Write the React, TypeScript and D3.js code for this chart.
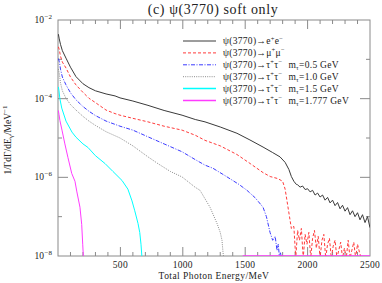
import React, { useEffect, useRef } from 'react';
import * as d3 from 'd3';

// [E_gamma (MeV), log10(1/Γ dΓ/dE)] ; null = empty bin
const eePts: [number, number | null][] = [
  [3, -2.36], [10, -2.48], [20, -2.62], [35, -2.78], [64, -2.97], [100, -3.2], [144, -3.44],
  [200, -3.62], [248, -3.72], [300, -3.8], [385, -3.88], [457, -3.93], [497, -3.98], [600, -4.06],
  [721, -4.17], [850, -4.3], [994, -4.42], [1100, -4.53], [1178, -4.59], [1300, -4.72], [1434, -4.88],
  [1538, -5.05], [1643, -5.23], [1720, -5.37], [1779, -5.48], [1820, -5.62], [1850, -5.8], [1870, -5.98],
  [1890, -6.1], [1910, -6.18], [1920, -6.19], [1940, -6.25], [1960, -6.22], [1980, -6.31], [2000, -6.29],
  [2020, -6.37], [2040, -6.33], [2060, -6.45], [2080, -6.4], [2100, -6.5], [2120, -6.45], [2140, -6.58],
  [2160, -6.51], [2180, -6.65], [2200, -6.58], [2220, -6.72], [2240, -6.64], [2260, -6.8], [2280, -6.71],
  [2300, -6.86], [2320, -6.77], [2340, -6.95], [2360, -6.85], [2380, -7.0], [2400, -6.9], [2420, -7.08],
  [2440, -6.95], [2460, -7.15], [2480, -7.0], [2500, -7.28],
];

const mumuPts: [number, number | null][] = [
  [3, -2.68], [10, -2.75], [20, -2.92], [35, -3.07], [64, -3.22], [100, -3.45], [144, -3.65],
  [200, -3.84], [248, -3.99], [300, -4.1], [385, -4.29], [457, -4.38], [497, -4.42], [600, -4.5],
  [721, -4.59], [850, -4.7], [994, -4.8], [1100, -4.93], [1178, -5.06], [1300, -5.2], [1434, -5.42],
  [1540, -5.65], [1643, -5.88], [1700, -5.98], [1760, -6.03], [1800, -6.1], [1820, -6.3], [1840, -6.7],
  [1855, -7.0], [1870, -7.3], [1880, -7.25], [1890, -7.25], [1905, null], [1920, -7.35], [1935, -7.6],
  [1950, -7.3], [1965, null], [1980, -7.45], [1995, -7.7], [2010, -7.4], [2025, null], [2040, -7.55],
  [2055, -7.35], [2070, -7.8], [2085, -7.5], [2100, null], [2115, -7.6], [2130, -7.45], [2145, null],
  [2160, -7.7], [2175, -7.55], [2190, null], [2205, -7.75], [2220, -7.6], [2235, null], [2250, -7.85],
  [2265, -7.65], [2280, null], [2295, -7.8], [2310, null], [2325, -7.6], [2340, null], [2355, -7.85],
  [2370, -7.65], [2385, null], [2400, -7.7], [2415, -7.9], [2430, null],
];

const tau05Pts: [number, number | null][] = [
  [3, -2.98], [10, -3.05], [20, -3.25], [35, -3.45], [64, -3.65], [100, -3.85], [144, -4.03],
  [200, -4.2], [248, -4.32], [300, -4.43], [385, -4.57], [497, -4.7], [600, -4.8], [721, -4.97],
  [850, -5.15], [994, -5.35], [1100, -5.55], [1178, -5.69], [1242, -5.77], [1350, -5.98], [1450, -6.18],
  [1514, -6.33], [1580, -6.52], [1643, -6.76], [1670, -7.0], [1699, -7.4], [1720, -7.6], [1740, -7.5],
  [1755, -7.86], [1765, -7.7], [1775, null], [1782, -7.9], [1790, null],
];

const tau10Pts: [number, number | null][] = [
  [3, -3.25], [10, -3.35], [20, -3.6], [35, -3.8], [64, -3.99], [100, -4.15], [144, -4.29],
  [200, -4.45], [248, -4.57], [300, -4.68], [385, -4.84], [497, -5.0], [600, -5.2], [721, -5.48],
  [800, -5.65], [900, -5.85], [994, -5.99], [1098, -6.25], [1138, -6.33], [1218, -6.76], [1274, -7.17],
  [1300, -7.4], [1314, -7.6], [1322, -7.9], [1328, null],
];

const tau15Pts: [number, number | null][] = [
  [3, -3.7], [8, -3.8], [15, -4.0], [30, -4.24], [64, -4.57], [112, -4.85], [144, -4.98],
  [200, -5.15], [240, -5.24], [300, -5.45], [377, -5.65], [440, -5.85], [513, -6.08], [560, -6.3],
  [593, -6.6], [615, -6.85], [641, -7.17], [655, -7.4], [665, -7.7], [673, null],
];

const tau1777Pts: [number, number | null][] = [
  [3, -4.3], [8, -4.4], [15, -4.55], [32, -4.8], [55, -5.15], [80, -5.5], [110, -5.9],
  [136, -6.1], [150, -6.35], [176, -6.76], [190, -7.2], [198, -7.7], [204, null],
];
// stretch where the m=1.777 histogram runs along the floor
const tau1777Floor = [1480, 2500];

const xTicks = [500, 1000, 1500, 2000, 2500];
const yTicks = [-2, -4, -6, -8];

const series = [
  { label: 'e', pts: eePts, color: '#3a3a3a', dash: null, mass: null },
  { label: 'mu', pts: mumuPts, color: '#ff3b3b', dash: '3,2', mass: null },
  { label: 'tau', pts: tau05Pts, color: '#3b3bff', dash: '4,1.5,1,1.5', mass: '0.5' },
  { label: 'tau', pts: tau10Pts, color: '#8c8c8c', dash: '1,1.2', mass: '1.0' },
  { label: 'tau', pts: tau15Pts, color: '#00ffff', dash: null, mass: '1.5' },
  { label: 'tau', pts: tau1777Pts, color: '#ff3bff', dash: null, mass: '1.777' },
];

const App = () => {
  const svgRef = useRef<SVGSVGElement>(null);

  useEffect(() => {
    const svg = d3.select(svgRef.current);
    svg.selectAll('*').remove();

    const width = 382;
    const height = 283;
    const m = { top: 20, right: 12, bottom: 27, left: 58 };
    const x0 = m.left, x1 = width - m.right, y0 = m.top, y1 = height - m.bottom;
    const font = 'Liberation Serif, DejaVu Serif, serif';
    const axisCol = '#8a8a8a';

    const x = d3.scaleLinear().domain([0, 2500]).range([x0, x1]);
    const y = d3.scaleLog().domain([1e-8, 1e-2]).range([y1, y0]);

    svg.append('clipPath').attr('id', 'plot')
      .append('rect').attr('x', x0).attr('y', y0).attr('width', x1 - x0).attr('height', y1 - y0);

    // frame
    svg.append('rect')
      .attr('x', x0).attr('y', y0).attr('width', x1 - x0).attr('height', y1 - y0)
      .attr('fill', 'none').attr('stroke', axisCol).attr('stroke-width', 1);

    // x ticks, top and bottom
    const xt = svg.append('g').attr('stroke', axisCol).attr('stroke-width', 1);
    d3.range(100, 2500, 100).forEach(v => {
      const len = v % 500 === 0 ? 9 : 4;
      xt.append('line').attr('x1', x(v)).attr('x2', x(v)).attr('y1', y1).attr('y2', y1 - len);
      xt.append('line').attr('x1', x(v)).attr('x2', x(v)).attr('y1', y0).attr('y2', y0 + len);
    });
    // y ticks, left and right
    d3.range(-7, -2).forEach(e => {
      const len = e % 2 === 0 ? 10 : 4;
      const yy = y(Math.pow(10, e));
      xt.append('line').attr('x1', x0).attr('x2', x0 + len).attr('y1', yy).attr('y2', yy);
      xt.append('line').attr('x1', x1).attr('x2', x1 - len).attr('y1', yy).attr('y2', yy);
    });

    // tick labels
    svg.append('g').selectAll('text').data(xTicks).enter().append('text')
      .attr('x', d => x(d)).attr('y', 268)
      .attr('text-anchor', 'middle').attr('font-family', font).attr('font-size', 9.5)
      .attr('letter-spacing', 0.3).attr('fill', '#222').text(d => d);

    const yl = svg.append('g').selectAll('text').data(yTicks).enter().append('text')
      .attr('x', 52).attr('y', d => y(Math.pow(10, d)) + 3)
      .attr('text-anchor', 'end').attr('font-family', font).attr('font-size', 9.5).attr('fill', '#222');
    yl.append('tspan').text('10');
    yl.append('tspan').attr('dy', -4).attr('font-size', 7).attr('dx', 0.5).text(d => `\u2212${-d}`);

    // axis titles
    svg.append('text').attr('x', 214).attr('y', 279).attr('text-anchor', 'middle')
      .attr('font-family', font).attr('font-size', 9.5).attr('letter-spacing', 0.45).attr('fill', '#222')
      .text('Total Photon Energy/MeV');

    const yt = svg.append('text').attr('transform', 'translate(11,140) rotate(-90)')
      .attr('text-anchor', 'middle').attr('font-family', font).attr('font-size', 9.5).attr('fill', '#222');
    yt.append('tspan').text('1/\u0393d\u0393/dE');
    yt.append('tspan').attr('dy', 2).attr('font-size', 7).text('\u03b3');
    yt.append('tspan').attr('dy', -2).text('/MeV');
    yt.append('tspan').attr('dy', -4).attr('font-size', 7).text('\u22121');

    svg.append('text').attr('x', 213).attr('y', 14).attr('text-anchor', 'middle')
      .attr('font-family', font).attr('font-size', 14).attr('letter-spacing', 0.6).attr('fill', '#222')
      .text('(c) \u03c8(3770) soft only');

    // curves
    const plot = svg.append('g').attr('clip-path', 'url(#plot)');
    const line = d3.line<[number, number | null]>()
      .x(d => x(d[0]))
      .y(d => (d[1] == null ? y1 + 2 : y(Math.pow(10, d[1]))));

    series.forEach(s => {
      plot.append('path').datum(s.pts)
        .attr('fill', 'none').attr('stroke', s.color).attr('stroke-width', 1)
        .attr('stroke-dasharray', s.dash).attr('d', line);
    });
    plot.append('line')
      .attr('x1', x(tau1777Floor[0])).attr('x2', x(tau1777Floor[1]))
      .attr('y1', y1).attr('y2', y1)
      .attr('stroke', '#ff3bff').attr('stroke-width', 1.5);

    // legend
    const lg = svg.append('g');
    series.forEach((s, i) => {
      const ly = 41 + i * 11.9;
      lg.append('line').attr('x1', 183).attr('x2', 216).attr('y1', ly).attr('y2', ly)
        .attr('stroke', s.color).attr('stroke-width', s.color === '#00ffff' || s.color === '#ff3bff' ? 1.5 : 1)
        .attr('stroke-dasharray', s.dash);
      const t = lg.append('text').attr('x', 223).attr('y', ly + 3)
        .attr('font-family', font).attr('font-size', 9.5).attr('letter-spacing', 0.3).attr('fill', '#222');
      t.append('tspan').text('\u03c8(3770)\u2192');
      const sym = s.label === 'e' ? 'e' : s.label === 'mu' ? '\u03bc' : '\u03c4';
      t.append('tspan').text(sym);
      t.append('tspan').attr('dy', -3.5).attr('font-size', 6.5).text('+');
      t.append('tspan').attr('dy', 3.5).text(sym);
      t.append('tspan').attr('dy', -3.5).attr('font-size', 6.5).text('\u2212');
      if (s.mass) {
        t.append('tspan').attr('dy', 3.5).attr('dx', 6).text('m');
        t.append('tspan').attr('dy', 2).attr('font-size', 6.5).text('\u03c4');
        t.append('tspan').attr('dy', -2).text(`=${s.mass} GeV`);
      }
    });
  }, []);

  return (
    <svg ref={svgRef} width={382} height={283}
      style={{ position: 'absolute', left: 0, top: 0, background: '#fff' }} />
  );
};

export default App;
